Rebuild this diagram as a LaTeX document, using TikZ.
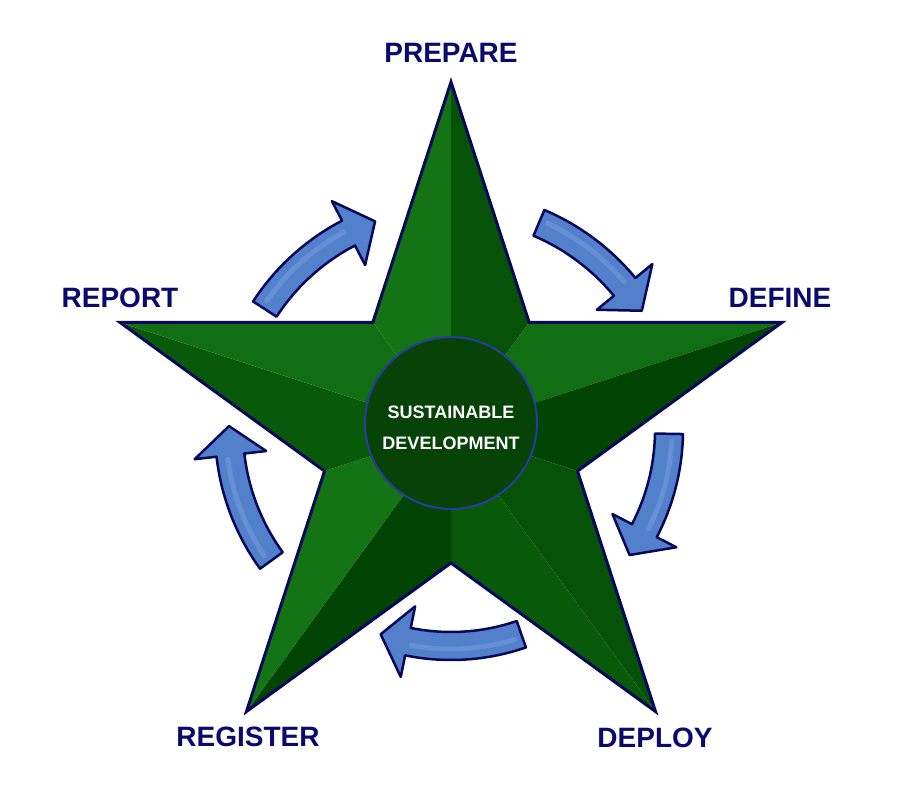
\documentclass[tikz,border=0pt]{standalone}
\usepackage{fontspec}
\setmainfont{Liberation Sans}
\usetikzlibrary{calc}
\definecolor{navy}{RGB}{10,10,110}
\definecolor{edgenavy}{RGB}{8,8,90}
\definecolor{gdark}{RGB}{2,68,4}
\definecolor{glight}{RGB}{20,118,22}
\definecolor{arrblue}{RGB}{82,128,202}
\definecolor{arrhi}{RGB}{140,175,235}
\definecolor{ringblue}{RGB}{40,60,160}
\definecolor{discgreen}{RGB}{7,66,7}
\newcommand\cycarrow[3]{%
  \pgfmathsetmacro\rO{#3+14}\pgfmathsetmacro\rI{#3-14}%
  \pgfmathsetmacro\hO{#3+36}\pgfmathsetmacro\hI{#3-36}%
  \pgfmathsetmacro\bA{#2+7.5}%
  \draw[cyc] ($(C)+(#1:\rO pt)$) arc[start angle=#1, end angle=\bA, radius=\rO pt]
    -- ($(C)+(\bA:\hO pt)$) -- ($(C)+(#2:#3pt)$) -- ($(C)+(\bA:\hI pt)$)
    -- ($(C)+(\bA:\rI pt)$) arc[start angle=\bA, end angle=#1, radius=\rI pt] -- cycle;
  \draw[arrhi, line width=5pt, opacity=0.35, line cap=round] ($(C)+(#1-2:#3pt+3pt)$) arc[start angle=#1-2, end angle=\bA+1, radius=#3pt+3pt];
}
\begin{document}
\begin{tikzpicture}[x=1pt,y=1pt,
  lbl/.style={font=\fontsize{28}{30}\selectfont\bfseries, text=navy, inner sep=0pt},
  cyc/.style={fill=arrblue, draw=edgenavy, line width=2.5pt, line join=round},
  staredge/.style={draw=edgenavy, line width=3pt, line join=miter, miter limit=10},
  disc/.style={circle, minimum size=172pt, inner sep=0pt, fill=discgreen, draw=ringblue, line width=2pt},
  disctext/.style={text=white, align=center, font=\fontsize{18}{31}\selectfont\bfseries, inner sep=0pt}]
\useasboundingbox (0,0) rectangle (900,800);
\fill[white] (0,0) rectangle (900,800);
\coordinate (C) at (451,370);
\foreach \i in {0,...,4}{
  \coordinate (o\i) at ($(C)+(90-72*\i:348pt)$);
  \coordinate (n\i) at ($(C)+(54-72*\i:133pt)$);
}
\foreach \i in {0,...,4}{
  \pgfmathsetmacro\a{90-72*\i}
  \pgfmathtruncatemacro\j{mod(\i+4,5)}
  \pgfmathtruncatemacro\bl{50+50*cos(\a+72-135)}
  \pgfmathtruncatemacro\br{50+50*cos(\a-72-135)}
  \fill[glight!\bl!gdark] (o\i) -- (n\j) -- (C) -- cycle;
  \fill[glight!\br!gdark] (o\i) -- (n\i) -- (C) -- cycle;
}
\draw[staredge] (o0) -- (n0) -- (o1) -- (n1) -- (o2) -- (n2) -- (o3) -- (n3) -- (o4) -- (n4) -- cycle;
\node[disc] (core) at (451,377) {};
\node[disctext] (sd) at (451,372.5) {SUSTAINABLE\\DEVELOPMENT};
\cycarrow{147}{110}{222}
\cycarrow{67}{32}{225}
\cycarrow{-1}{-35}{218}
\cycarrow{-71}{-109}{216}
\cycarrow{-144}{-181}{222}
\node[lbl] (prepare) at (451,747) {PREPARE};
\node[lbl] (report) at (120,502) {REPORT};
\node[lbl] (define) at (780,502) {DEFINE};
\node[lbl] (register) at (248,63.5) {REGISTER};
\node[lbl] (deploy) at (655,62) {DEPLOY};
\end{tikzpicture}
\end{document}
